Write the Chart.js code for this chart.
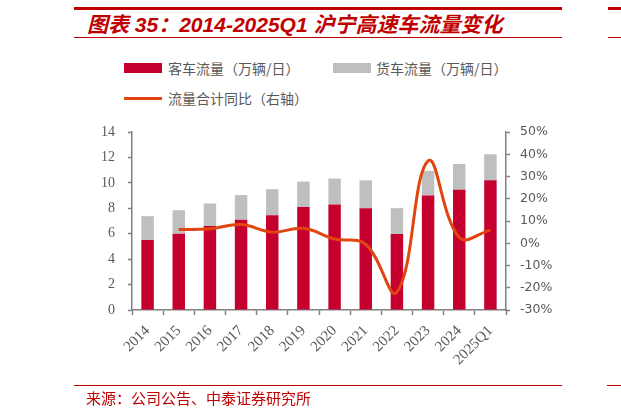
<!DOCTYPE html>
<html>
<head>
<meta charset="utf-8">
<script src="https://cdn.jsdelivr.net/npm/chart.js@4/dist/chart.umd.min.js"></script>
<style>
    body { margin: 0; background: #fff; }
    #wrap { position: relative; width: 621px; height: 413px; overflow: hidden; }
    #chart { position: absolute; left: 0; top: 0; }
    .rule { position: absolute; background: #C00000; }
    .title {
        position: absolute; left: 87px; top: 8px;
        font: italic bold 21px "Liberation Sans", "Noto Sans CJK SC", sans-serif;
        color: #C00000; white-space: nowrap;
    }
    .legend { position: absolute; font: 14px "Noto Sans CJK SC", sans-serif; color: #595959; white-space: nowrap; }
    .swatch { position: absolute; }
    .source { position: absolute; left: 86px; top: 387px; font: 15px "Noto Sans CJK SC", sans-serif; color: #C00000; white-space: nowrap; }
</style>
</head>
<body>
<div id="wrap">
    <div class="rule" style="left:74px;top:7px;width:488px;height:3px"></div>
    <div class="rule" style="left:608px;top:7px;width:13px;height:3px"></div>
    <div class="title">图表 35：2014-2025Q1 沪宁高速车流量变化</div>
    <div class="rule" style="left:74px;top:37px;width:488px;height:1px"></div>
    <div class="rule" style="left:608px;top:37px;width:13px;height:1px"></div>

    <div class="swatch" style="left:124px;top:63px;width:38px;height:10px;background:#C5002F"></div>
    <div class="legend" style="left:168px;top:58px">客车流量（万辆/日）</div>
    <div class="swatch" style="left:333px;top:63px;width:38px;height:10px;background:#BFBFBF"></div>
    <div class="legend" style="left:376px;top:58px">货车流量（万辆/日）</div>
    <div class="swatch" style="left:124px;top:97px;width:38px;height:3px;background:#E2450F"></div>
    <div class="legend" style="left:168px;top:88px">流量合计同比（右轴）</div>

    <canvas id="chart" width="621" height="413"></canvas>

    <div class="rule" style="left:74px;top:385px;width:488px;height:1px"></div>
    <div class="rule" style="left:607px;top:385px;width:14px;height:1px"></div>
    <div class="source">来源：公司公告、中泰证券研究所</div>
</div>
<script>
// Data
const years = ['2014', '2015', '2016', '2017', '2018', '2019', '2020', '2021', '2022', '2023', '2024', '2025Q1'];
const passengerFlow = [5.5, 6.0, 6.6, 7.1, 7.45, 8.1, 8.3, 8.0, 5.97, 9.0, 9.45, 10.2];
const truckFlow = [1.88, 1.85, 1.78, 1.94, 2.05, 2.0, 2.04, 2.2, 2.04, 1.94, 2.04, 2.05];
const totalYoY = [null, 6.2, 6.5, 8.4, 5.0, 6.7, 1.9, -0.5, -22, 37, 2.6, 5.9];
const leftTicks = [0, 2, 4, 6, 8, 10, 12, 14];
const rightTicks = [-30, -20, -10, 0, 10, 20, 30, 40, 50];

const axisGray = '#808080';
const textGray = '#595959';

const ctx = document.getElementById('chart').getContext('2d');
new Chart(ctx, {
    data: {
        labels: years,
        datasets: [{
            type: 'line',
            label: '流量合计同比（右轴）',
            data: totalYoY,
            yAxisID: 'y1',
            borderColor: '#E2450F',
            borderWidth: 3,
            pointRadius: 0,
            tension: 0.4,
            spanGaps: true,
            order: 0
        }, {
            type: 'bar',
            label: '客车流量（万辆/日）',
            data: passengerFlow,
            backgroundColor: '#C5002F',
            yAxisID: 'y',
            barPercentage: 0.8,
            categoryPercentage: 0.5,
            order: 1
        }, {
            type: 'bar',
            label: '货车流量（万辆/日）',
            data: truckFlow,
            backgroundColor: '#BFBFBF',
            yAxisID: 'y',
            barPercentage: 0.8,
            categoryPercentage: 0.5,
            order: 1
        }]
    },
    options: {
        responsive: false,
        animation: false,
        layout: { padding: { left: 0, right: 0, top: 132, bottom: 0 } },
        plugins: {
            legend: { display: false },
            tooltip: { enabled: false }
        },
        scales: {
            x: {
                stacked: true,
                afterFit: function(scale) { scale.height = 103; },
                grid: { drawOnChartArea: false, offset: true, tickLength: 5, color: axisGray, tickWidth: 1.5 },
                border: { color: axisGray, width: 1.5 },
                ticks: {
                    color: textGray,
                    font: { family: 'Liberation Serif', size: 15 },
                    minRotation: 45,
                    maxRotation: 45,
                    padding: 7
                }
            },
            y: {
                stacked: true,
                position: 'left',
                min: 0,
                max: 14,
                afterFit: function(scale) { scale.width = 132; },
                afterBuildTicks: function(scale) { scale.ticks = leftTicks.map(v => ({ value: v })); },
                grid: { drawOnChartArea: false, tickLength: 4, color: axisGray, tickWidth: 1.5 },
                border: { color: axisGray, width: 1.5 },
                ticks: {
                    color: textGray,
                    font: { family: 'Liberation Serif', size: 14 },
                    padding: 13
                }
            },
            y1: {
                position: 'right',
                min: -30,
                max: 50,
                afterFit: function(scale) { scale.width = 115; },
                afterBuildTicks: function(scale) { scale.ticks = rightTicks.map(v => ({ value: v })); },
                grid: { drawOnChartArea: false, tickLength: 4, color: axisGray, tickWidth: 1.5 },
                border: { color: axisGray, width: 1.5 },
                ticks: {
                    color: textGray,
                    font: { family: 'DejaVu Sans', size: 12.5 },
                    padding: 10,
                    callback: v => v + '%'
                }
            }
        }
    }
});
</script>
</body>
</html>
